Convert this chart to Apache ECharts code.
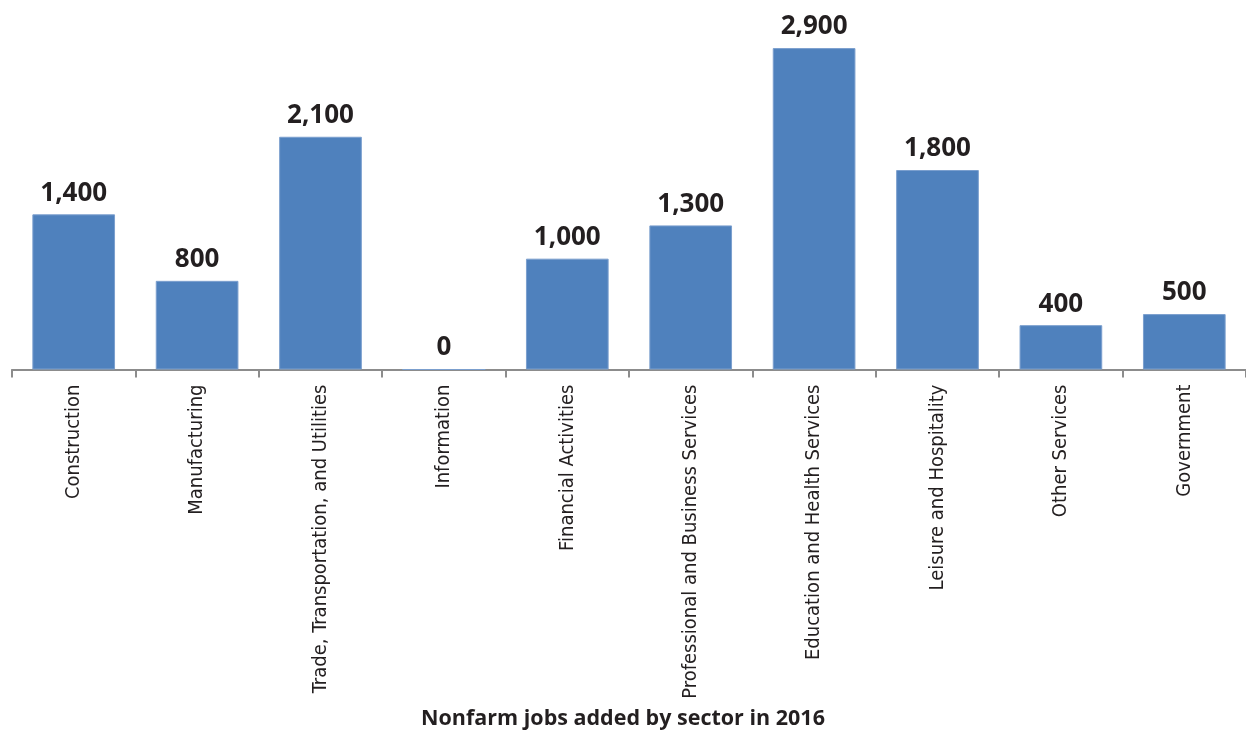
<!DOCTYPE html>
<html>
<head>
<meta charset="utf-8">
<script src="https://cdn.jsdelivr.net/npm/echarts@6/dist/echarts.min.js"></script>
<style>html,body{margin:0;padding:0;background:#fff}#c{width:1246px;height:732px}</style>
</head>
<body>
<div id="c"></div>
<script>
var categories = ["Construction", "Manufacturing", "Trade, Transportation, and Utilities", "Information", "Financial Activities", "Professional and Business Services", "Education and Health Services", "Leisure and Hospitality", "Other Services", "Government"];
var jobsAdded = [1400, 800, 2100, 0, 1000, 1300, 2900, 1800, 400, 500];
var chartTitle = "Nonfarm jobs added by sector in 2016";

var chart = echarts.init(document.getElementById('c'), null, {renderer: 'canvas'});
chart.setOption({
  animation: false,
  backgroundColor: '#ffffff',
  title: {
    text: chartTitle,
    left: 'center',
    top: 708,
    padding: 0,
    textStyle: {fontFamily: 'Open Sans', fontWeight: 'bold', fontSize: 21.5, color: '#231F20'}
  },
  grid: {left: 12, top: 37, width: 1237, bottom: 362.5, containLabel: false},
  xAxis: {
    type: 'category',
    data: categories,
    axisLine: {lineStyle: {color: '#8c8c8c', width: 2}},
    axisTick: {show: true, length: 8, lineStyle: {color: '#8c8c8c', width: 2}},
    axisLabel: {
      rotate: 90,
      interval: 0,
      margin: 15,
      fontFamily: 'Liberation Sans Narrow, DejaVu Sans Condensed, sans-serif',
      fontSize: 20,
      color: '#231F20'
    }
  },
  yAxis: {
    type: 'value',
    min: 0,
    max: 3000,
    show: false,
    splitLine: {show: false}
  },
  series: [{
    type: 'bar',
    data: jobsAdded,
    barWidth: '67%',
    itemStyle: {color: '#4F81BD', borderColor: '#7B9FCE', borderWidth: 1},
    label: {
      show: true,
      position: 'top',
      distance: 8,
      fontFamily: 'Open Sans',
      fontWeight: 'bold',
      fontSize: 26,
      color: '#231F20',
      formatter: function (p) { return p.value.toLocaleString('en-US'); }
    }
  }]
});
</script>
</body>
</html>
